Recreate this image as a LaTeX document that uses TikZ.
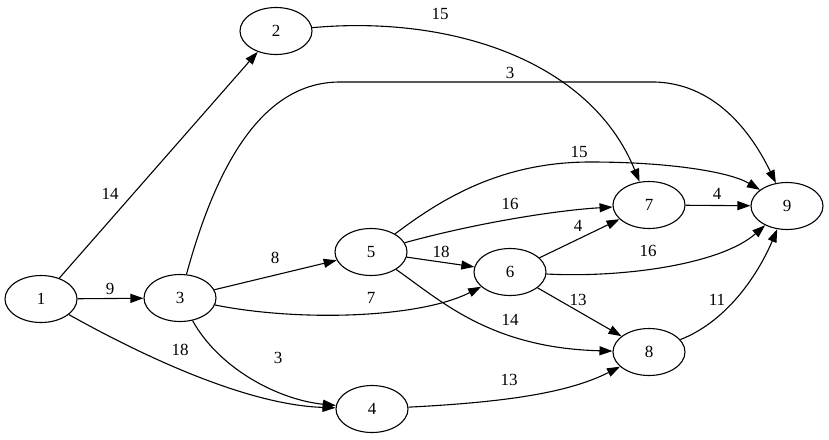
\documentclass[tikz,border=0pt]{standalone}
\usepackage{fontspec}
\setmainfont{Liberation Serif}
\usetikzlibrary{arrows.meta,shapes.geometric}
\begin{document}
\begin{tikzpicture}[x=1pt,y=-1pt,
  vert/.style={draw,ellipse,line width=1.1pt,minimum width=72pt,minimum height=47pt,inner sep=0pt,font=\fontsize{17}{19}\selectfont},
  lbl/.style={inner sep=0pt,font=\fontsize{17}{19}\selectfont},
  edge/.style={line width=1.1pt,-{Triangle[length=13pt,width=9pt]}}]
\useasboundingbox (0,0) rectangle (829,439);
\node[vert] (n1) at (41,299) {1};
\node[vert] (n2) at (276,31) {2};
\node[vert] (n3) at (180,298) {3};
\node[vert] (n4) at (372,409) {4};
\node[vert] (n5) at (371,252) {5};
\node[vert] (n6) at (510,272) {6};
\node[vert] (n7) at (649,205) {7};
\node[vert] (n8) at (649,352) {8};
\node[vert] (n9) at (787,206) {9};
\coordinate (c3a) at (340,82);
\coordinate (c3b) at (655,82);
\coordinate (c5a) at (590,162);
% edges
\draw[edge] (n1) -- (n2);
\draw[edge] (n1) -- (n3);
\draw[edge] (n1) .. controls (150,360) and (250,405) .. (n4);
\draw[edge] (n2) .. controls (450,15) and (590,60) .. (n7);
\draw[edge] (n3) .. controls (215,170) and (260,82) .. (c3a) -- (c3b) .. controls (720,84) and (755,140) .. (n9);
\draw[edge] (n3) -- (n5);
\draw[edge] (n3) .. controls (300,322) and (420,318) .. (n6);
\draw[edge] (n3) .. controls (220,370) and (280,400) .. (n4);
\draw[edge] (n5) .. controls (440,200) and (500,162) .. (c5a) .. controls (670,162) and (730,172) .. (n9);
\draw[edge] (n5) .. controls (480,222) and (560,210) .. (n7);
\draw[edge] (n5) -- (n6);
\draw[edge] (n5) .. controls (440,300) and (490,348) .. (n8);
\draw[edge] (n6) -- (n7);
\draw[edge] (n6) .. controls (620,278) and (720,265) .. (n9);
\draw[edge] (n6) -- (n8);
\draw[edge] (n7) -- (n9);
\draw[edge] (n8) .. controls (730,320) and (760,270) .. (n9);
\draw[edge] (n4) .. controls (510,402) and (570,392) .. (n8);
% labels
\node[lbl] (l12) at (110,194) {14};
\node[lbl] (l13) at (110,289) {9};
\node[lbl] (l14) at (180,350) {18};
\node[lbl] (l27) at (440,14) {15};
\node[lbl] (l39) at (510,73) {3};
\node[lbl] (l35) at (275,258) {8};
\node[lbl] (l36) at (371,298) {7};
\node[lbl] (l34) at (278,358) {3};
\node[lbl] (l59) at (579,152) {15};
\node[lbl] (l57) at (510,204) {16};
\node[lbl] (l56) at (441,252) {18};
\node[lbl] (l58) at (510,320) {14};
\node[lbl] (l67) at (578,226) {4};
\node[lbl] (l69) at (648,251) {16};
\node[lbl] (l68) at (578,300) {13};
\node[lbl] (l79) at (717,194) {4};
\node[lbl] (l89) at (717,300) {11};
\node[lbl] (l48) at (509,380) {13};
\end{tikzpicture}
\end{document}
